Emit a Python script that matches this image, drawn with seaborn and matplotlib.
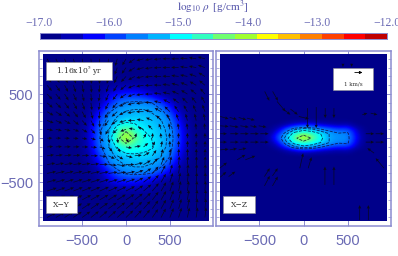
import numpy as np
import matplotlib
matplotlib.use("Agg")
import matplotlib.pyplot as plt
import seaborn as sns

# colour bar steps, low to high
BAR_COLORS = ["#00008a", "#0000b4", "#0000ff", "#0040ff", "#0080ff", "#00b4ff", "#00ffff", "#30ffc0",
              "#70ff70", "#a0ff30", "#ffff00", "#ffc000", "#ff8000", "#ff4000", "#ff0000", "#c00000"]
BAR_TICKS = [-17.0, -16.0, -15.0, -14.0, -13.0, -12.0]
AXIS_TICKS = [-500, 0, 500]

# log density X-Y, x = -500..700 step 100, rows y = 600..-600
XY_RHO = [
    [-17.0, -17.0, -17.0, -16.9, -16.85, -16.8, -16.8, -16.8, -16.85, -16.95, -17.0, -17.0, -17.0],
    [-17.0, -16.95, -16.8, -16.5, -16.3, -16.2, -16.2, -16.4, -16.6, -16.85, -17.0, -17.0, -17.0],
    [-17.0, -16.95, -16.75, -16.3, -15.85, -15.65, -15.6, -15.6, -15.7, -16.05, -16.45, -16.85, -17.0],
    [-17.0, -16.8, -16.35, -15.75, -15.5, -15.4, -15.35, -15.35, -15.45, -15.55, -16.0, -16.55, -16.9],
    [-16.95, -16.6, -16.0, -15.55, -15.35, -15.25, -15.2, -15.2, -15.25, -15.4, -15.65, -16.3, -16.8],
    [-16.9, -16.45, -15.75, -15.45, -14.85, -14.4, -14.85, -15.1, -15.2, -15.3, -15.55, -16.05, -16.7],
    [-16.9, -16.4, -15.7, -15.4, -14.4, -13.6, -14.3, -14.85, -15.1, -15.25, -15.5, -16.0, -16.65],
    [-16.9, -16.45, -15.75, -15.45, -15.0, -14.6, -14.8, -14.95, -15.05, -15.25, -15.55, -16.05, -16.7],
    [-16.95, -16.6, -16.0, -15.55, -15.35, -15.25, -15.15, -15.15, -15.2, -15.4, -15.65, -16.3, -16.8],
    [-17.0, -16.8, -16.35, -15.75, -15.5, -15.4, -15.35, -15.35, -15.45, -15.55, -16.0, -16.55, -16.9],
    [-17.0, -16.95, -16.75, -16.3, -15.85, -15.65, -15.6, -15.6, -15.7, -16.05, -16.45, -16.85, -17.0],
    [-17.0, -16.95, -16.8, -16.5, -16.3, -16.2, -16.2, -16.4, -16.6, -16.85, -17.0, -17.0, -17.0],
    [-17.0, -17.0, -17.0, -16.9, -16.85, -16.8, -16.8, -16.8, -16.85, -16.95, -17.0, -17.0, -17.0],
]

# log density X-Z, x = -400..700 step 100, rows z = +3..-3 cells around midplane
XZ_RHO = [
    [-17.0, -17.0, -16.8, -16.5, -16.3, -16.4, -16.6, -16.7, -16.8, -16.7, -17.0, -17.0],
    [-17.0, -16.7, -16.0, -15.5, -15.3, -15.4, -15.7, -15.9, -16.1, -16.0, -16.6, -17.0],
    [-16.9, -16.3, -15.5, -14.9, -14.5, -14.8, -15.1, -15.45, -15.65, -15.6, -16.4, -16.95],
    [-16.8, -16.0, -15.3, -14.4, -13.6, -14.3, -15.0, -15.45, -15.6, -15.55, -16.3, -16.9],
    [-16.9, -16.3, -15.5, -14.9, -14.5, -14.8, -15.1, -15.45, -15.65, -15.6, -16.4, -16.95],
    [-17.0, -16.7, -16.0, -15.5, -15.3, -15.4, -15.7, -15.9, -16.1, -16.0, -16.6, -17.0],
    [-17.0, -17.0, -16.8, -16.5, -16.3, -16.4, -16.6, -16.7, -16.8, -16.7, -17.0, -17.0],
]
RHO_LEVELS = [-15.7, -15.42, -15.08, -14.2]

# velocity direction in degrees X-Y, x = -900..900, rows y = 900..-900
XY_ANGLE = [
    [300, 295, 290, 285, 280, 275, 270, 265, 255, 240, 215, 195, 190, 185, 180, 180, 175, 170, 165],
    [300, 295, 290, 285, 280, 275, 270, 262, 250, 235, 212, 195, 188, 182, 180, 178, 172, 168, 160],
    [305, 300, 295, 290, 280, 275, 268, 258, 245, 228, 208, 192, 185, 180, 178, 172, 168, 160, 150],
    [310, 305, 298, 290, 282, 275, 265, 252, 238, 220, 203, 190, 182, 178, 172, 165, 158, 150, 140],
    [315, 310, 302, 295, 285, 275, 262, 248, 232, 215, 200, 188, 180, 172, 165, 155, 148, 140, 130],
    [320, 315, 308, 300, 290, 278, 262, 245, 228, 210, 195, 185, 175, 165, 152, 142, 135, 128, 120],
    [330, 325, 318, 310, 300, 285, 265, 240, 222, 205, 190, 180, 168, 150, 135, 125, 120, 115, 110],
    [340, 335, 330, 322, 312, 298, 270, 235, 215, 195, 180, 170, 155, 132, 115, 110, 105, 103, 100],
    [350, 348, 345, 340, 330, 315, 285, 240, 225, 200, 170, 160, 135, 112, 100, 97, 95, 95, 95],
    [0, 0, 358, 355, 350, 340, 320, 285, 280, 300, 70, 60, 85, 95, 95, 92, 90, 90, 90],
    [5, 5, 3, 2, 0, 355, 340, 310, 300, 350, 10, 40, 65, 80, 90, 90, 88, 88, 88],
    [8, 8, 7, 6, 4, 0, 352, 335, 330, 345, 5, 30, 55, 75, 85, 88, 88, 88, 88],
    [10, 10, 10, 9, 8, 6, 2, 355, 350, 0, 12, 30, 50, 68, 80, 85, 86, 87, 88],
    [12, 13, 13, 13, 12, 11, 10, 8, 8, 12, 20, 33, 48, 62, 75, 82, 85, 86, 88],
    [15, 16, 17, 17, 17, 17, 17, 16, 17, 20, 27, 37, 48, 60, 72, 80, 84, 86, 88],
    [18, 20, 21, 22, 22, 23, 24, 24, 26, 28, 33, 40, 50, 60, 70, 78, 83, 85, 87],
    [22, 24, 25, 27, 28, 29, 30, 31, 32, 34, 38, 44, 52, 60, 68, 76, 81, 84, 86],
    [25, 27, 29, 31, 33, 34, 35, 36, 38, 40, 43, 48, 54, 61, 68, 74, 79, 83, 85],
    [28, 30, 32, 34, 36, 38, 40, 41, 42, 44, 46, 50, 55, 62, 68, 73, 78, 82, 84],
]

# arrow length per row X-Y (shorter up top, longer low down)
XY_LENGTH = [85, 85, 85, 85, 85, 85, 85, 80, 70, 60, 70, 80, 95, 105, 110, 115, 115, 115, 115]

# sparse arrows X-Z, tail position and vector
XZ_X = [-440, -350, -300, -231, -148, -53, 45, 144, 246, 345,
        -944, -837, -735, -640, -944, -837, -716, -602, -507,
        -944, -830, -716, -602, -490, -944, -830, -716, -602, -490,
        -944, -837, -735, -951, -944, -849, -754, -660,
        -443, -352, -443, -352, -42, 53, 243, 345, 637, 735,
        706, 706, 818, 818, 800, 913, 667, 762, 447, 546]
XZ_Z = [530, 530, 417, 330, 330, 246, 341, 352, 341, 341,
        246, 235, 235, 227, 140, 140, 140, 140, 140,
        50, 50, 50, 50, 50, -45, -45, -45, -45, -45,
        -133, -133, -133, -341, -443, -436, -246, -246,
        -542, -542, -436, -428, -341, -341, -530, -530, -929, -929,
        50, -45, 50, -45, -170, -341, 265, 284, 845, 845]
XZ_U = [53, 61, 95, 83, 83, 114, 0, 0, 0, 0,
        95, 83, 87, 87, 95, 102, 95, 76, 87,
        76, 95, 95, 95, 95, 76, 95, 95, 95, 95,
        95, 83, 87, 83, 68, 76, 95, 114,
        61, 61, 61, 61, 38, 38, 0, 0, 0, 0,
        95, 95, 95, 95, -76, -95, 57, 76, 0, 0]
XZ_V = [-106, -106, -114, -64, -64, -27, -227, -239, -114, -114,
        -27, -23, -27, -23, -8, -15, -15, -15, -15,
        0, 0, 0, 0, 0, 0, 0, 0, 0, 0,
        8, 15, 19, 64, 60, 57, 57, 45,
        114, 106, 95, 87, 170, 125, 208, 208, 170, 170,
        0, 0, 0, 0, 57, 114, 19, -19, -38, -38]

FRAME = "#8c8cd0"
TEXT = "#6a6ab4"
LIM = 992
FILL = 945

sns.set_theme(style="white")
plt.rcParams["mathtext.fontset"] = "stix"

W, H = 398, 256
fig = plt.figure(figsize=(W / 100, H / 100), dpi=100)


def px_axes(left, top, right, bottom):
    return fig.add_axes([left / W, 1 - bottom / H, (right - left) / W, (bottom - top) / H])


cmap = sns.blend_palette(BAR_COLORS, as_cmap=True)
ARROW = dict(angles="xy", scale_units="xy", scale=1, color="#080820", width=0.004, headwidth=4.5,
             headlength=5, headaxislength=4.5, zorder=3, clip_on=False)


def draw_panel(ax, rho, ylabels):
    ax.imshow(rho, cmap=cmap, vmin=-17, vmax=-12, extent=[-FILL, FILL, -FILL, FILL],
              interpolation="bicubic", aspect="auto", zorder=1)
    ny, nx = rho.shape
    dx = 2 * FILL / nx
    dy = 2 * FILL / ny
    xs = -FILL + dx * (np.arange(nx) + 0.5)
    ys = FILL - dy * (np.arange(ny) + 0.5)
    ax.contour(xs, ys, rho, levels=RHO_LEVELS, colors="#101040", linewidths=0.6, alpha=0.85, zorder=2)
    ax.set_xlim(-LIM, LIM)
    ax.set_ylim(-LIM, LIM)
    ax.set_xticks(AXIS_TICKS)
    ax.set_yticks(AXIS_TICKS)
    ax.set_yticks(np.arange(-900, 901, 100), minor=True)
    ax.tick_params(which="major", direction="in", length=4, width=0.7, color=FRAME,
                   top=True, bottom=True, left=True, right=True, zorder=5)
    ax.tick_params(which="minor", direction="in", length=2, width=0.5, color=FRAME, left=True, right=True)
    ax.set_xticklabels(["\u2212500", "0", "500"], fontsize=10.5, color=TEXT, family="Liberation Sans")
    ax.tick_params(axis="x", pad=6)
    if ylabels:
        ax.set_yticklabels(["\u2212500", "0", "500"], fontsize=10.5, color=TEXT, family="Liberation Sans")
        ax.tick_params(axis="y", pad=4)
    else:
        ax.set_yticklabels([])
    for s in ax.spines.values():
        s.set_visible(True)
        s.set_color(FRAME)
        s.set_linewidth(1.1)


def label_box(ax, x0, y0, w, h, txt, size=5.5):
    ax.add_patch(plt.Rectangle((x0, y0), w, h, fc="white", ec="#909090", lw=0.4, zorder=6))
    ax.text(x0 + w / 2, y0 + h / 2, txt, ha="center", va="center", fontsize=size,
            family="DejaVu Serif", color="#303030", zorder=7)


# colour bar
ax_bar = px_axes(39.5, 33, 387, 38.5)
sns.heatmap(np.arange(16).reshape(1, 16), ax=ax_bar, cmap=BAR_COLORS, cbar=False,
            xticklabels=False, yticklabels=False)
ax_bar.set_xticks([(v + 17) / 5 * 16 for v in BAR_TICKS])
ax_bar.set_xticklabels([f"{v:.1f}".replace("-", "\u2212") for v in BAR_TICKS], fontsize=8.5, color=TEXT,
                       family="Liberation Serif")
ax_bar.xaxis.tick_top()
ax_bar.tick_params(axis="x", direction="in", length=1.5, width=0.5, color="#404040", pad=3)
for s in ax_bar.spines.values():
    s.set_visible(True)
    s.set_color(FRAME)
    s.set_linewidth(0.7)
fig.text(213 / W, 1 - 7.5 / H, r"$\log_{10}\,\rho\;$ [g/cm$^3$]", ha="center", va="center",
         fontsize=8, color="#5050a8", family="Liberation Serif")

# X-Y panel
ax1 = px_axes(39, 50.7, 213, 225.6)
rho_xy = np.full((19, 19), -17.0)
rho_xy[3:16, 4:17] = XY_RHO
draw_panel(ax1, rho_xy, True)
grid = np.arange(-900, 901, 100)
gx, gy = np.meshgrid(grid, grid[::-1])
ang = np.radians(np.array(XY_ANGLE, dtype=float))
length = np.array(XY_LENGTH, dtype=float)[:, None]
ax1.quiver(gx, gy, length * np.cos(ang), length * np.sin(ang), **ARROW)
label_box(ax1, -910, 660, 750, 205, "1.16x10$^5$ yr", 5.5)
label_box(ax1, -910, -850, 350, 190, "X\u2212Y")

# X-Z panel
ax2 = px_axes(216, 50.7, 391, 225.6)
rho_xz = np.full((37, 19), -17.0)
rho_xz[15:22, 5:17] = XZ_RHO
draw_panel(ax2, rho_xz, False)
ax2.quiver(XZ_X, XZ_Z, XZ_U, XZ_V, **ARROW)
label_box(ax2, -910, -850, 360, 190, "X\u2212Z")
label_box(ax2, 330, 545, 455, 250, "", 5)
ax2.text(560, 610, "1 km/s", ha="center", va="center", fontsize=4, family="DejaVu Serif",
         color="#303030", zorder=7)
ax2.annotate("", xy=(700, 745), xytext=(550, 745), zorder=7,
             arrowprops=dict(arrowstyle="-|>", lw=0.6, color="black", mutation_scale=4))

fig.savefig("out.png", dpi=100)
